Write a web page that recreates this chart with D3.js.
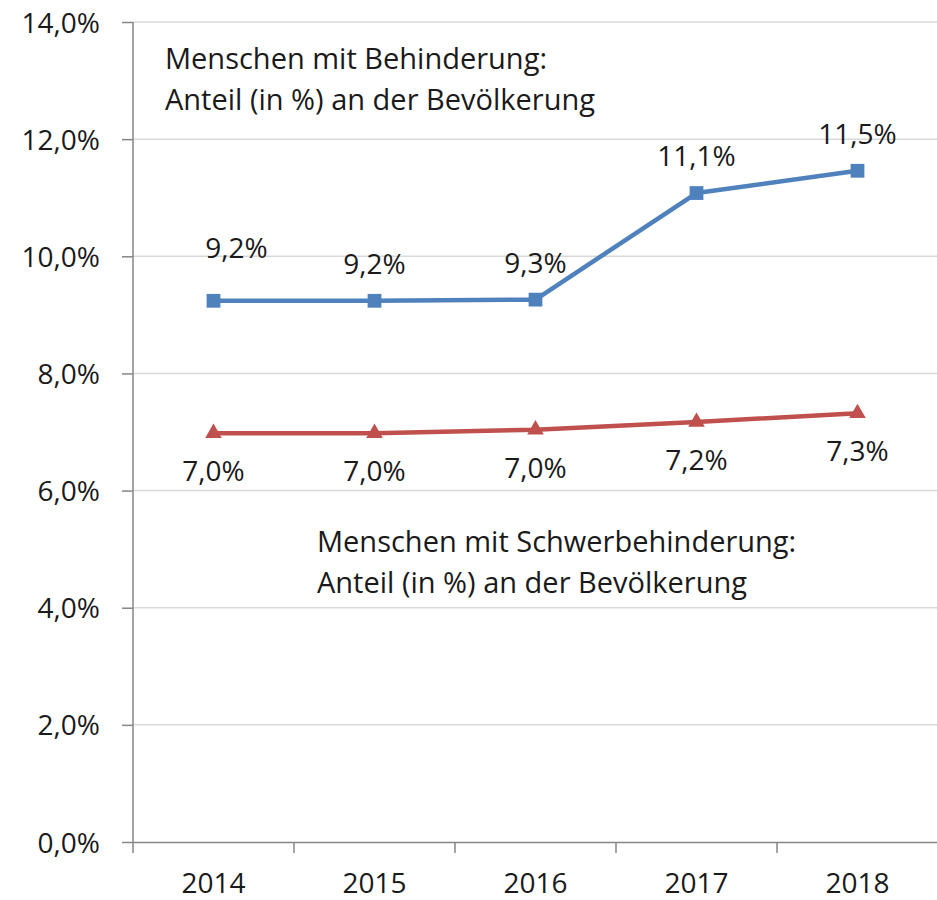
<!DOCTYPE html>
<html>
<head>
<meta charset="utf-8">
<script src="https://cdn.jsdelivr.net/npm/d3@7"></script>
<style>
  html, body { margin: 0; padding: 0; background: #fff; }
  svg { display: block; }
  svg text { font-family: "Open Sans", Lato, sans-serif; }
</style>
</head>
<body>
<div id="chart"></div>
<script>
const years = ["2014", "2015", "2016", "2017", "2018"];
// Menschen mit Behinderung
const behinderung = [9.24, 9.24, 9.26, 11.08, 11.46];
// Menschen mit Schwerbehinderung
const schwerbehinderung = [6.98, 6.98, 7.04, 7.17, 7.32];
const yTicks = [0, 2, 4, 6, 8, 10, 12, 14];
const noteTop = ["Menschen mit Behinderung:", "Anteil (in %) an der Bevölkerung"];
const noteBottom = ["Menschen mit Schwerbehinderung:", "Anteil (in %) an der Bevölkerung"];

const width = 937;
const height = 900;
const margin = { top: 22, right: -1, bottom: 58, left: 133 };
const fontSize = 28;
const noteSize = 29;
const textColor = "#1a1a1a";

const de = d3.formatLocale({
  decimal: ",",
  thousands: ".",
  grouping: [3],
  currency: ["", " €"],
});
const pct = (v) => de.format(".1f")(v) + "%";

const x = d3
  .scaleBand()
  .domain(years)
  .range([margin.left, width - margin.right])
  .padding(0);
const y = d3
  .scaleLinear()
  .domain([0, 14])
  .range([height - margin.bottom, margin.top]);

const svg = d3
  .select("#chart")
  .append("svg")
  .attr("width", width)
  .attr("height", height)
  .attr("viewBox", `0 0 ${width} ${height}`);

// horizontal gridlines
svg
  .append("g")
  .attr("class", "grid")
  .selectAll("line")
  .data(yTicks.filter((t) => t > 0))
  .join("line")
  .attr("x1", margin.left)
  .attr("x2", width)
  .attr("y1", (t) => y(t))
  .attr("y2", (t) => y(t))
  .attr("stroke", "#d9d9d9")
  .attr("stroke-width", 1.5);

// y axis
const yAxis = svg
  .append("g")
  .attr("transform", `translate(${margin.left},0)`)
  .call(
    d3.axisLeft(y).tickValues(yTicks).tickSize(11).tickPadding(22).tickFormat(pct)
  );
yAxis.attr("font-family", null).attr("font-size", null);
yAxis.select(".domain").attr("stroke", "#868686").attr("stroke-width", 1.5)
  .attr("d", `M0,${y(14)}V${y(0) + 11}`);
yAxis.selectAll(".tick line").attr("stroke", "#868686").attr("stroke-width", 1.5);
yAxis
  .selectAll(".tick text")
  .attr("fill", textColor)
  .style("font-size", `${fontSize}px`)
  .attr("dy", "0.36em");

// x axis
const xAxis = svg
  .append("g")
  .attr("transform", `translate(0,${y(0)})`)
  .call(d3.axisBottom(x).tickSize(0).tickPadding(31));
xAxis.attr("font-family", null).attr("font-size", null);
xAxis.select(".domain").attr("stroke", "#868686").attr("stroke-width", 1.5);
xAxis
  .selectAll(".tick text")
  .attr("fill", textColor)
  .style("font-size", `${fontSize}px`);
// category boundary ticks
xAxis
  .append("g")
  .selectAll("line")
  .data(years.slice(1))
  .join("line")
  .attr("x1", (d) => x(d))
  .attr("x2", (d) => x(d))
  .attr("y1", 0)
  .attr("y2", 11)
  .attr("stroke", "#868686")
  .attr("stroke-width", 1.5);

const cx = (i) => x(years[i]) + x.bandwidth() / 2;

const series = [
  {
    values: behinderung,
    color: "#4f81bd",
    symbol: d3.symbolSquare,
    size: 190,
    labelDy: -27,
  },
  {
    values: schwerbehinderung,
    color: "#c0504d",
    symbol: d3.symbolTriangle,
    size: 120,
    labelDy: 48,
  },
];

// one label in the reference was dragged away from its default spot
const labelNudge = { "0-0": { dx: 23, dy: -16 } };

const line = d3
  .line()
  .x((v, i) => cx(i))
  .y((v) => y(v));

series.forEach((s, si) => {
  const g = svg.append("g");
  g.append("path")
    .attr("d", line(s.values))
    .attr("fill", "none")
    .attr("stroke", s.color)
    .attr("stroke-width", 4.5)
    .attr("stroke-linejoin", "round");
  g.selectAll("path.marker")
    .data(s.values)
    .join("path")
    .attr("class", "marker")
    .attr("d", d3.symbol(s.symbol, s.size))
    .attr("transform", (v, i) => `translate(${cx(i)},${y(v)})`)
    .attr("fill", s.color);
  g.selectAll("text")
    .data(s.values)
    .join("text")
    .attr("x", (v, i) => cx(i) + (labelNudge[`${si}-${i}`]?.dx ?? 0))
    .attr("y", (v, i) => y(v) + s.labelDy + (labelNudge[`${si}-${i}`]?.dy ?? 0))
    .attr("text-anchor", "middle")
    .attr("fill", textColor)
    .style("font-size", `${fontSize}px`)
    .text((v) => pct(v));
});

// text boxes
const note = (lines, x0, y0) => {
  svg
    .append("g")
    .selectAll("text")
    .data(lines)
    .join("text")
    .attr("x", x0)
    .attr("y", (d, i) => y0 + i * 41)
    .attr("fill", textColor)
    .style("font-size", `${noteSize}px`)
    .text((d) => d);
};
note(noteTop, 165, 69);
note(noteBottom, 317, 552);
</script>
</body>
</html>
